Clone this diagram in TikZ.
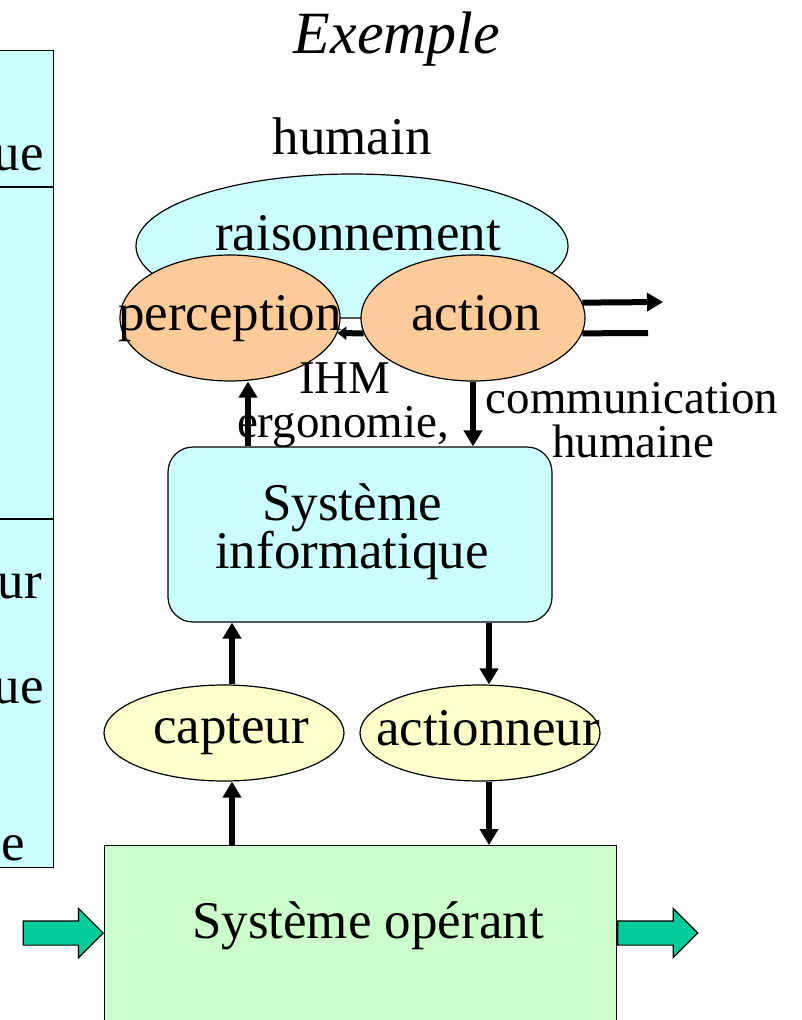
\documentclass[tikz,border=0pt]{standalone}
\usepackage{fontspec}
\setmainfont{Liberation Serif}
\usetikzlibrary{shapes.geometric,shapes.arrows,arrows.meta}

\definecolor{cyanbg}{HTML}{CCFFFF}
\definecolor{orangebg}{HTML}{FFCC99}
\definecolor{yellowbg}{HTML}{FFFFCC}
\definecolor{greenbg}{HTML}{CCFFCC}
\definecolor{opgreen}{HTML}{00CC99}

\begin{document}
\begin{tikzpicture}[x=1pt, y=-1pt, >={Triangle[length=16pt,width=18pt]},
    every node/.style={font=\fontsize{53}{60}\selectfont, inner sep=0pt},
    lbl/.style={anchor=base},
    small/.style={anchor=base, font=\fontsize{47}{52}\selectfont},
    ell/.style={ellipse, draw, line width=1.2pt},
    fleche/.style={->, line width=6pt},
    bigarrow/.style={single arrow, draw, fill=opgreen, line width=1.2pt,
        minimum height=80pt, minimum width=48pt,
        single arrow head extend=12.5pt, inner sep=11.5pt}]
    \useasboundingbox (0,0) rectangle (802,1020);

    % tableau coupe a gauche
    \node[draw, fill=cyanbg, line width=1.2pt, anchor=north east,
        minimum width=70pt, minimum height=817pt] (panel) at (54,50) {};
    \draw[line width=1.2pt] (panel.west |- 0,187) -- (panel.east |- 0,187);
    \draw[line width=1.2pt] (panel.west |- 0,519) -- (panel.east |- 0,519);
    \node[anchor=base east] (pa) at (44,170) {ue};
    \node[anchor=base east] (pb) at (42,598) {ur};
    \node[anchor=base east] (pc) at (44,703) {ue};
    \node[anchor=base east] (pd) at (25,860) {e};

    \node[lbl, font=\fontsize{60}{66}\selectfont\itshape] (titre) at (397,53) {Exemple};
    \node[lbl] (humain) at (352,154) {humain};

    % humain
    \node[ell, fill=cyanbg, minimum width=432pt, minimum height=144pt] (rais) at (352,246) {};
    \node[lbl] (traisonn) at (358,250) {raisonnement};
    \node[ell, fill=orangebg, minimum width=220pt, minimum height=126pt] (perc) at (230,318) {};
    \node[ell, fill=orangebg, minimum width=224pt, minimum height=126pt] (act) at (473,318) {};
    \node[lbl] (tperc) at (230,330) {perception};
    \node[lbl] (tact) at (476,330) {action};
    \draw[line width=6pt, -{Triangle[length=9pt,width=13pt]}] (act.188) -- (perc.352);

    \coordinate (outa) at (663,302);
    \coordinate (outb) at (648,333);
    \draw[fleche] (act.8) -- (outa);
    \draw[line width=6pt] (act.-8) -- (outb);

    \node[small] (ihm) at (345,393) {IHM};
    \node[small] (ergo) at (343,437) {ergonomie,};
    \node[small] (comm) at (632,413) {communication};
    \node[small] (hum) at (633,457) {humaine};

    % systeme informatique
    \node[draw, fill=cyanbg, line width=1.2pt, rounded corners=25pt,
        minimum width=384pt, minimum height=175pt] (si) at (360,534.5) {};
    \node[lbl] (tsi1) at (352,520) {Système};
    \node[lbl] (tsi2) at (352,568) {informatique};

    \draw[fleche] (si.north -| 248,0) -- (248,0 |- perc.south);
    \draw[fleche] (473,0 |- act.south) -- (si.north -| 473,0);

    % capteur / actionneur
    \node[ell, fill=yellowbg, minimum width=240pt, minimum height=96pt] (cap) at (224,733) {};
    \node[ell, fill=yellowbg, minimum width=240pt, minimum height=96pt] (actn) at (480,733) {};
    \node[lbl] (tcap) at (231,743) {capteur};
    \node[lbl] (tactn) at (488,745) {actionneur};

    \draw[fleche] (232,0 |- cap.north) -- (si.south -| 232,0);
    \draw[fleche] (si.south -| 489,0) -- (489,0 |- actn.north);

    % systeme operant
    \node[draw, fill=greenbg, line width=1.2pt, anchor=north west,
        minimum width=512pt, minimum height=190pt] (so) at (104,845) {};
    \node[lbl] (tso) at (368,938) {Système opérant};

    \draw[fleche] (so.north -| 232,0) -- (232,0 |- cap.south);
    \draw[fleche] (489,0 |- actn.south) -- (so.north -| 489,0);

    \node[bigarrow, anchor=tip] (entree) at (so.west |- 0,933) {};
    \node[bigarrow, anchor=tail] (sortie) at (so.east |- 0,933) {};
\end{tikzpicture}
\end{document}
